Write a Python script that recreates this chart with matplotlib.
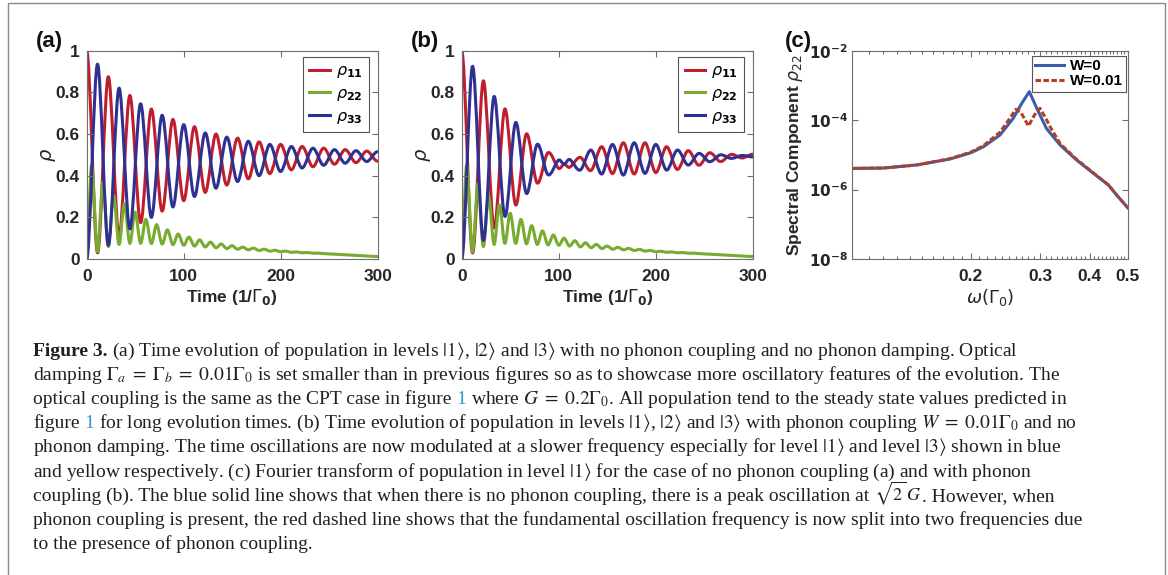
import matplotlib
matplotlib.use("Agg")
import matplotlib.pyplot as plt
from matplotlib.lines import Line2D
from matplotlib.patches import PathPatch, Rectangle
from matplotlib.path import Path
from matplotlib.ticker import FixedLocator, NullLocator, NullFormatter

plt.rcParams["font.family"] = ["Liberation Sans", "DejaVu Sans"]
plt.rcParams["mathtext.fontset"] = "dejavusans"

W, H = 1168, 575

# ---- panel (a): no phonon coupling, turning points ----
t_a = [0, 11.1, 22.2, 33.3, 44.4, 55.5, 66.6, 77.7, 88.8, 99.9, 111.0, 122.1,
       133.2, 144.3, 155.4, 166.5, 177.6, 188.7, 199.8, 210.9, 222.0, 233.1,
       244.2, 255.3, 266.4, 277.5, 288.6, 299.7]
rho11_a = [1.00, 0.03, 0.875, 0.11, 0.785, 0.175, 0.72, 0.23, 0.67, 0.28, 0.635, 0.32,
           0.60, 0.355, 0.58, 0.385, 0.562, 0.41, 0.55, 0.428, 0.54, 0.443,
           0.532, 0.455, 0.525, 0.463, 0.518, 0.47]
rho33_a = [0.00, 0.935, 0.067, 0.82, 0.145, 0.745, 0.20, 0.69, 0.25, 0.645, 0.30, 0.605,
           0.34, 0.585, 0.372, 0.565, 0.40, 0.55, 0.42, 0.54, 0.437, 0.532,
           0.45, 0.525, 0.46, 0.52, 0.468, 0.515]

t_g = [0, 5.0, 11.1, 16.6, 22.2, 27.7, 33.3, 38.8, 44.4, 49.9, 55.5, 61.0, 66.6,
       72.1, 77.7, 83.2, 88.8, 94.3, 99.9, 105.4, 111.0, 116.5, 122.1, 127.6,
       133.2, 138.7, 144.3, 149.8, 155.4, 160.9, 166.5, 172.0, 177.6, 183.1,
       188.7, 194.2, 199.8, 205.3, 210.9, 216.4, 222.0, 227.5, 233.1, 238.6,
       244.2, 260, 275, 290, 300]
rho22_a = [0.0, 0.45, 0.035, 0.37, 0.06, 0.305, 0.07, 0.265, 0.075, 0.225, 0.075, 0.19,
           0.074, 0.165, 0.072, 0.14, 0.069, 0.12, 0.066, 0.105, 0.062, 0.092, 0.058,
           0.081, 0.054, 0.072, 0.05, 0.064, 0.047, 0.057, 0.044, 0.052, 0.041, 0.047,
           0.038, 0.042, 0.035, 0.038, 0.032, 0.034, 0.03, 0.031, 0.028, 0.028, 0.026,
           0.022, 0.018, 0.014, 0.012]

# ---- panel (b): W = 0.01, beat node near t ~ 105 ----
t_b = [0, 11.1, 22.2, 33.3, 44.4, 55.5, 66.6, 77.7, 88.8, 99.9, 105.5, 111.0, 122.1,
       133.2, 144.3, 155.4, 166.5, 177.6, 188.7, 199.8, 210.9, 222.0, 233.1,
       244.2, 255.3, 266.4, 277.5, 288.6, 299.7]
rho11_b = [1.00, 0.03, 0.855, 0.15, 0.72, 0.26, 0.60, 0.365, 0.51, 0.435, 0.455, 0.44,
           0.488, 0.425, 0.539, 0.41, 0.558, 0.408, 0.558, 0.415, 0.539, 0.43, 0.52,
           0.45, 0.51, 0.468, 0.502, 0.485, 0.503]
rho33_b = [0.00, 0.925, 0.09, 0.78, 0.205, 0.655, 0.315, 0.55, 0.405, 0.475, 0.455, 0.478,
           0.427, 0.523, 0.408, 0.55, 0.403, 0.558, 0.411, 0.55, 0.427, 0.523, 0.451,
           0.507, 0.467, 0.50, 0.483, 0.497, 0.49]
rho22_b = [0.0, 0.45, 0.035, 0.36, 0.06, 0.30, 0.07, 0.26, 0.075, 0.22, 0.075, 0.19,
           0.073, 0.16, 0.07, 0.135, 0.068, 0.115, 0.066, 0.10, 0.062, 0.088, 0.058,
           0.078, 0.054, 0.07, 0.05, 0.062, 0.047, 0.056, 0.044, 0.051, 0.041, 0.046,
           0.038, 0.041, 0.035, 0.037, 0.032, 0.034, 0.03, 0.031, 0.028, 0.028, 0.026,
           0.022, 0.018, 0.014, 0.012]

# ---- panel (c): spectral component of rho22 ----
w_w0 = [0.100, 0.120, 0.146, 0.177, 0.200, 0.215, 0.237, 0.256, 0.269, 0.2814,
        0.294, 0.311, 0.337, 0.371, 0.409, 0.447, 0.469, 0.500]
s_w0 = [4.07e-6, 4.17e-6, 5.13e-6, 7.59e-6, 1.15e-5, 1.70e-5, 3.72e-5, 1.12e-4,
        3.02e-4, 6.61e-4, 2.19e-4, 5.75e-5, 1.91e-5, 7.08e-6, 2.95e-6, 1.35e-6,
        6.9e-7, 3.0e-7]
w_w1 = [0.100, 0.120, 0.146, 0.177, 0.200, 0.215, 0.237, 0.250, 0.2598, 0.268,
        0.2799, 0.290, 0.2995, 0.310, 0.3176, 0.337, 0.371, 0.409, 0.447, 0.469, 0.500]
s_w1 = [4.07e-6, 4.17e-6, 5.13e-6, 7.76e-6, 1.20e-5, 1.82e-5, 4.47e-5, 1.05e-4,
        2.04e-4, 1.66e-4, 6.76e-5, 1.41e-4, 2.19e-4, 1.12e-4, 6.46e-5, 2.09e-5,
        7.41e-6, 3.02e-6, 1.35e-6, 6.9e-7, 3.0e-7]

rho_labels = [r"$\rho_{\mathbf{11}}$", r"$\rho_{\mathbf{22}}$", r"$\rho_{\mathbf{33}}$"]
w_labels = ["W=0", "W=0.01"]
time_ticks = [0, 100, 200, 300]
rho_ticks = [0, 0.2, 0.4, 0.6, 0.8, 1]
rho_ticklabels = ["0", "0.2", "0.4", "0.6", "0.8", "1"]
w_ticks = [0.2, 0.3, 0.4, 0.5]
s_ticks = [1e-8, 1e-6, 1e-4, 1e-2]
s_ticklabels = [r"$\mathbf{10^{-8}}$", r"$\mathbf{10^{-6}}$",
                r"$\mathbf{10^{-4}}$", r"$\mathbf{10^{-2}}$"]

RED, GREEN, NAVY = "#BF1E2E", "#77AC30", "#2E3192"
C_BLUE, C_RED = "#3A5DAE", "#B5401E"
INK = "#262626"
LW = 2.2

fig = plt.figure(figsize=(W / 100, H / 100), dpi=100)


def box(left, right, top=50.7, bottom=259):
    return fig.add_axes([left / W, 1 - bottom / H, (right - left) / W, (bottom - top) / H])


def smooth_line(ax, t, v, color):
    # smooth curve through the read turning points (cubic segments)
    n = len(t)
    slope = [0.0] * n
    for i in range(1, n - 1):
        slope[i] = (v[i + 1] - v[i - 1]) / (t[i + 1] - t[i - 1])
    verts = [(t[0], v[0])]
    codes = [Path.MOVETO]
    for i in range(n - 1):
        h = (t[i + 1] - t[i]) / 3
        verts += [(t[i] + h, v[i] + slope[i] * h),
                  (t[i + 1] - h, v[i + 1] - slope[i + 1] * h),
                  (t[i + 1], v[i + 1])]
        codes += [Path.CURVE4] * 3
    ax.add_patch(PathPatch(Path(verts, codes), fill=False, edgecolor=color, lw=LW,
                           joinstyle="round", capstyle="round"))


def style(ax):
    for s in ax.spines.values():
        s.set_color("#6e6e6e")
        s.set_linewidth(0.8)
    ax.tick_params(which="both", direction="in", top=True, right=True,
                   color="#6e6e6e", width=0.8, labelsize=12.5, labelcolor=INK)
    ax.tick_params(which="major", length=4)
    ax.tick_params(which="minor", length=2.5)
    ax.tick_params(axis="x", pad=7)
    ax.tick_params(axis="y", pad=5)


def time_panel(ax, t, r11, r33, r22):
    smooth_line(ax, t, r11, RED)
    smooth_line(ax, t_g, r22, GREEN)
    smooth_line(ax, t, r33, NAVY)
    ax.set_xlim(0, 300)
    ax.set_ylim(0, 1)
    ax.set_xticks(time_ticks)
    ax.set_xticklabels([str(v) for v in time_ticks], fontweight="bold")
    ax.set_yticks(rho_ticks)
    ax.set_yticklabels(rho_ticklabels, fontweight="bold")
    ax.set_xlabel(r"Time (1/$\Gamma_{\mathbf{0}}$)", fontsize=12.5, fontweight="bold", color=INK)
    ax.xaxis.set_label_coords(0.5, -0.135)
    ax.set_ylabel(r"$\rho$", fontsize=14, color=INK)
    ax.yaxis.set_label_coords(-0.10, 0.5)
    handles = [Line2D([], [], color=c, lw=LW) for c in (RED, GREEN, NAVY)]
    leg = ax.legend(handles, rho_labels, loc="upper right", bbox_to_anchor=(0.97, 0.97),
                    borderaxespad=0, fontsize=11.5, handlelength=1.3, handletextpad=0.35,
                    labelspacing=0.35, borderpad=0.4, fancybox=False,
                    edgecolor="#555555", framealpha=1)
    leg.get_frame().set_linewidth(0.8)
    style(ax)


ax_a = box(86.7, 377.7)
time_panel(ax_a, t_a, rho11_a, rho33_a, rho22_a)
ax_b = box(461.7, 753)
time_panel(ax_b, t_b, rho11_b, rho33_b, rho22_b)

ax_c = box(852.3, 1127.7)
ax_c.plot(w_w0, s_w0, color=C_BLUE, lw=LW, label=w_labels[0])
ax_c.plot(w_w1, s_w1, color=C_RED, lw=LW, ls=(0, (1.8, 0.8)), label=w_labels[1])
ax_c.set_xscale("log")
ax_c.set_yscale("log")
ax_c.set_xlim(0.1, 0.5)
ax_c.set_ylim(1e-8, 1e-2)
ax_c.xaxis.set_major_locator(FixedLocator(w_ticks))
ax_c.xaxis.set_minor_locator(FixedLocator([k / 100 for k in range(10, 51) if k % 10]))
ax_c.xaxis.set_minor_formatter(NullFormatter())
ax_c.set_xticklabels([str(v) for v in w_ticks], fontweight="bold")
ax_c.yaxis.set_major_locator(FixedLocator(s_ticks))
ax_c.yaxis.set_minor_locator(NullLocator())
style(ax_c)
ax_c.set_yticklabels(s_ticklabels, fontsize=11)
ax_c.tick_params(axis="y", pad=3)
ax_c.set_xlabel(r"$\omega(\Gamma_0)$", fontsize=13, color=INK)
ax_c.xaxis.set_label_coords(0.5, -0.135)
ax_c.set_ylabel(r"Spectral Component $\rho_{22}$", fontsize=12.5, fontweight="bold", color=INK)
ax_c.yaxis.set_label_coords(-0.17, 0.5)
leg = ax_c.legend(loc="upper right", bbox_to_anchor=(0.995, 0.975), borderaxespad=0,
                  handlelength=1.9, handletextpad=0.4, labelspacing=0.1,
                  borderpad=0.2, fancybox=False, edgecolor="#555555", framealpha=1,
                  prop={"weight": "bold", "size": 11})
leg.get_frame().set_linewidth(0.8)

for x, tag in ((36, "(a)"), (411, "(b)"), (785, "(c)")):
    fig.text(x / W, 1 - 41.7 / H, tag, fontsize=16, fontweight="bold", color="#111111",
             ha="left", va="center")

# outer frame of the figure block
fig.add_artist(Rectangle((8 / W, -0.1), (1165 - 8) / W, 1.1 - 3 / H, transform=fig.transFigure,
                         fill=False, edgecolor="#8a8a8a", lw=1.0))

# ---- caption ----
LINK = "#3399CC"
caption = [
    [("Figure 3.", "bold", None, 14),
     (r"(a) Time evolution of population in levels $|1\rangle$, $|2\rangle$ and $|3\rangle$ with no phonon coupling and no phonon damping. Optical", "normal", None, 14)],
    [(r"damping $\Gamma_a\;=\;\Gamma_b\;=\;0.01\Gamma_0$ is set smaller than in previous figures so as to showcase more oscillatory features of the evolution. The", "normal", None, 14)],
    [("optical coupling is the same as the CPT case in figure", "normal", None, 14), ("1", "normal", LINK, 14),
     (r"where $G\;=\;0.2\Gamma_0$. All population tend to the steady state values predicted in", "normal", None, 14)],
    [("figure", "normal", None, 14), ("1", "normal", LINK, 14),
     (r"for long evolution times. (b) Time evolution of population in levels $|1\rangle$, $|2\rangle$ and $|3\rangle$ with phonon coupling $W\;=\;0.01\Gamma_0$ and no", "normal", None, 14)],
    [(r"phonon damping. The time oscillations are now modulated at a slower frequency especially for level $|1\rangle$ and level $|3\rangle$ shown in blue", "normal", None, 14)],
    [(r"and yellow respectively. (c) Fourier transform of population in level $|1\rangle$ for the case of no phonon coupling (a) and with phonon", "normal", None, 14)],
    [("coupling (b). The blue solid line shows that when there is no phonon coupling, there is a peak oscillation at", "normal", None, 14),
     (r"$\sqrt{2}\,G$", "normal", None, 13), (". However, when", "normal", None, 14)],
    [("phonon coupling is present, the red dashed line shows that the fundamental oscillation frequency is now split into two frequencies due", "normal", None, 14)],
    [("to the presence of phonon coupling.", "normal", None, 14)],
]

renderer = fig.canvas.get_renderer()
probe = fig.text(0, 0, "a a", fontsize=14, family="Liberation Serif")
probe2 = fig.text(0, 0, "aa", fontsize=14, family="Liberation Serif")
space = probe.get_window_extent(renderer).width - probe2.get_window_extent(renderer).width
probe.remove()
probe2.remove()

for i, line in enumerate(caption):
    x = 33.0
    y = 356 + 24.1 * i
    for text, weight, color, size in line:
        if text.startswith("."):
            x -= space
        t = fig.text(x / W, 1 - y / H, text, fontsize=size, fontweight=weight,
                     family="Liberation Serif", math_fontfamily="stix",
                     color=color or "#231F20", ha="left", va="baseline")
        x += t.get_window_extent(renderer).width + space

fig.savefig("out.png", dpi=100)
